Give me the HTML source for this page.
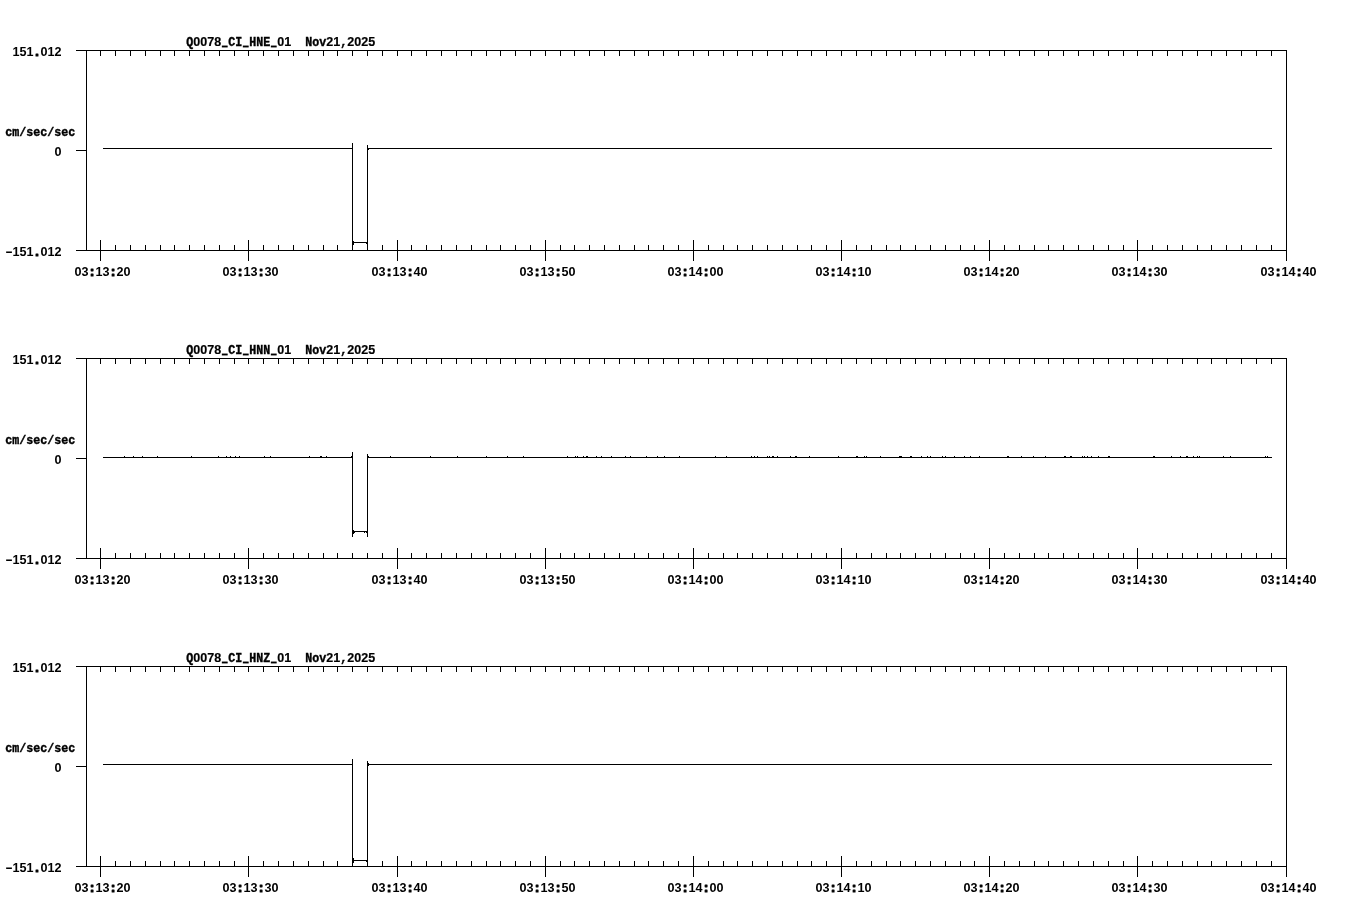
<!DOCTYPE html>
<html lang="en">
<head>
<meta charset="utf-8">
<title>Q0078 CI HN waveforms</title>
<style>
html,body{margin:0;padding:0;background:#fff;}
body{width:1358px;height:924px;overflow:hidden;}
svg{display:block;}
.ln{fill:#000;shape-rendering:crispEdges;}
.tx{font-family:"Liberation Mono","DejaVu Sans Mono",monospace;font-weight:bold;font-size:11.665px;fill:#000;stroke:#000;stroke-width:0.35px;}
.us{stroke-width:1.1px;}
.d{font-family:"Liberation Sans",sans-serif;font-size:10.77px;stroke-width:0.15px;}
.n{font-family:"Liberation Sans",sans-serif;font-size:12.6px;text-anchor:middle;stroke-width:0;}
.p{stroke-width:1.2px;stroke-linejoin:round;}
</style>
</head>
<body>
<svg width="1358" height="924" viewBox="0 0 1358 924">
<rect width="1358" height="924" fill="#fff"/>
<g class="ln">
<path d="M76 50h1211v1h-1211zM76 250h1211v1h-1211zM86 50h1v201h-1zM1286 50h1v211h-1zM76 150h10v1h-10zM100 51h1v5h-1zM100 240h1v21h-1zM115 51h1v5h-1zM115 245h1v5h-1zM130 51h1v5h-1zM130 245h1v5h-1zM145 51h1v5h-1zM145 245h1v5h-1zM160 51h1v5h-1zM160 245h1v5h-1zM174 51h1v5h-1zM174 245h1v5h-1zM189 51h1v5h-1zM189 245h1v5h-1zM204 51h1v5h-1zM204 245h1v5h-1zM219 51h1v5h-1zM219 245h1v5h-1zM234 51h1v5h-1zM234 245h1v5h-1zM248 51h1v5h-1zM248 240h1v21h-1zM263 51h1v5h-1zM263 245h1v5h-1zM278 51h1v5h-1zM278 245h1v5h-1zM293 51h1v5h-1zM293 245h1v5h-1zM308 51h1v5h-1zM308 245h1v5h-1zM323 51h1v5h-1zM323 245h1v5h-1zM337 51h1v5h-1zM337 245h1v5h-1zM352 51h1v5h-1zM352 245h1v5h-1zM367 51h1v5h-1zM367 245h1v5h-1zM382 51h1v5h-1zM382 245h1v5h-1zM397 51h1v5h-1zM397 240h1v21h-1zM411 51h1v5h-1zM411 245h1v5h-1zM426 51h1v5h-1zM426 245h1v5h-1zM441 51h1v5h-1zM441 245h1v5h-1zM456 51h1v5h-1zM456 245h1v5h-1zM471 51h1v5h-1zM471 245h1v5h-1zM486 51h1v5h-1zM486 245h1v5h-1zM500 51h1v5h-1zM500 245h1v5h-1zM515 51h1v5h-1zM515 245h1v5h-1zM530 51h1v5h-1zM530 245h1v5h-1zM545 51h1v5h-1zM545 240h1v21h-1zM560 51h1v5h-1zM560 245h1v5h-1zM574 51h1v5h-1zM574 245h1v5h-1zM589 51h1v5h-1zM589 245h1v5h-1zM604 51h1v5h-1zM604 245h1v5h-1zM619 51h1v5h-1zM619 245h1v5h-1zM634 51h1v5h-1zM634 245h1v5h-1zM648 51h1v5h-1zM648 245h1v5h-1zM663 51h1v5h-1zM663 245h1v5h-1zM678 51h1v5h-1zM678 245h1v5h-1zM693 51h1v5h-1zM693 240h1v21h-1zM708 51h1v5h-1zM708 245h1v5h-1zM723 51h1v5h-1zM723 245h1v5h-1zM737 51h1v5h-1zM737 245h1v5h-1zM752 51h1v5h-1zM752 245h1v5h-1zM767 51h1v5h-1zM767 245h1v5h-1zM782 51h1v5h-1zM782 245h1v5h-1zM797 51h1v5h-1zM797 245h1v5h-1zM811 51h1v5h-1zM811 245h1v5h-1zM826 51h1v5h-1zM826 245h1v5h-1zM841 51h1v5h-1zM841 240h1v21h-1zM856 51h1v5h-1zM856 245h1v5h-1zM871 51h1v5h-1zM871 245h1v5h-1zM886 51h1v5h-1zM886 245h1v5h-1zM900 51h1v5h-1zM900 245h1v5h-1zM915 51h1v5h-1zM915 245h1v5h-1zM930 51h1v5h-1zM930 245h1v5h-1zM945 51h1v5h-1zM945 245h1v5h-1zM960 51h1v5h-1zM960 245h1v5h-1zM974 51h1v5h-1zM974 245h1v5h-1zM989 51h1v5h-1zM989 240h1v21h-1zM1004 51h1v5h-1zM1004 245h1v5h-1zM1019 51h1v5h-1zM1019 245h1v5h-1zM1034 51h1v5h-1zM1034 245h1v5h-1zM1048 51h1v5h-1zM1048 245h1v5h-1zM1063 51h1v5h-1zM1063 245h1v5h-1zM1078 51h1v5h-1zM1078 245h1v5h-1zM1093 51h1v5h-1zM1093 245h1v5h-1zM1108 51h1v5h-1zM1108 245h1v5h-1zM1123 51h1v5h-1zM1123 245h1v5h-1zM1137 51h1v5h-1zM1137 240h1v21h-1zM1152 51h1v5h-1zM1152 245h1v5h-1zM1167 51h1v5h-1zM1167 245h1v5h-1zM1182 51h1v5h-1zM1182 245h1v5h-1zM1197 51h1v5h-1zM1197 245h1v5h-1zM1211 51h1v5h-1zM1211 245h1v5h-1zM1226 51h1v5h-1zM1226 245h1v5h-1zM1241 51h1v5h-1zM1241 245h1v5h-1zM1256 51h1v5h-1zM1256 245h1v5h-1zM1271 51h1v5h-1zM1271 245h1v5h-1zM1286 51h1v5h-1zM1286 240h1v21h-1zM103 148h249v1h-249zM368 148h904v1h-904zM352 143h1v107h-1zM367 145h1v105h-1zM353 242h14v1h-14zM353 241h1v4h-1zM366 243h1v1h-1zM368 149h1v1h-1z"/>
<path d="M76 358h1211v1h-1211zM76 558h1211v1h-1211zM86 358h1v201h-1zM1286 358h1v211h-1zM76 458h10v1h-10zM100 359h1v5h-1zM100 548h1v21h-1zM115 359h1v5h-1zM115 553h1v5h-1zM130 359h1v5h-1zM130 553h1v5h-1zM145 359h1v5h-1zM145 553h1v5h-1zM160 359h1v5h-1zM160 553h1v5h-1zM174 359h1v5h-1zM174 553h1v5h-1zM189 359h1v5h-1zM189 553h1v5h-1zM204 359h1v5h-1zM204 553h1v5h-1zM219 359h1v5h-1zM219 553h1v5h-1zM234 359h1v5h-1zM234 553h1v5h-1zM248 359h1v5h-1zM248 548h1v21h-1zM263 359h1v5h-1zM263 553h1v5h-1zM278 359h1v5h-1zM278 553h1v5h-1zM293 359h1v5h-1zM293 553h1v5h-1zM308 359h1v5h-1zM308 553h1v5h-1zM323 359h1v5h-1zM323 553h1v5h-1zM337 359h1v5h-1zM337 553h1v5h-1zM352 359h1v5h-1zM352 553h1v5h-1zM367 359h1v5h-1zM367 553h1v5h-1zM382 359h1v5h-1zM382 553h1v5h-1zM397 359h1v5h-1zM397 548h1v21h-1zM411 359h1v5h-1zM411 553h1v5h-1zM426 359h1v5h-1zM426 553h1v5h-1zM441 359h1v5h-1zM441 553h1v5h-1zM456 359h1v5h-1zM456 553h1v5h-1zM471 359h1v5h-1zM471 553h1v5h-1zM486 359h1v5h-1zM486 553h1v5h-1zM500 359h1v5h-1zM500 553h1v5h-1zM515 359h1v5h-1zM515 553h1v5h-1zM530 359h1v5h-1zM530 553h1v5h-1zM545 359h1v5h-1zM545 548h1v21h-1zM560 359h1v5h-1zM560 553h1v5h-1zM574 359h1v5h-1zM574 553h1v5h-1zM589 359h1v5h-1zM589 553h1v5h-1zM604 359h1v5h-1zM604 553h1v5h-1zM619 359h1v5h-1zM619 553h1v5h-1zM634 359h1v5h-1zM634 553h1v5h-1zM648 359h1v5h-1zM648 553h1v5h-1zM663 359h1v5h-1zM663 553h1v5h-1zM678 359h1v5h-1zM678 553h1v5h-1zM693 359h1v5h-1zM693 548h1v21h-1zM708 359h1v5h-1zM708 553h1v5h-1zM723 359h1v5h-1zM723 553h1v5h-1zM737 359h1v5h-1zM737 553h1v5h-1zM752 359h1v5h-1zM752 553h1v5h-1zM767 359h1v5h-1zM767 553h1v5h-1zM782 359h1v5h-1zM782 553h1v5h-1zM797 359h1v5h-1zM797 553h1v5h-1zM811 359h1v5h-1zM811 553h1v5h-1zM826 359h1v5h-1zM826 553h1v5h-1zM841 359h1v5h-1zM841 548h1v21h-1zM856 359h1v5h-1zM856 553h1v5h-1zM871 359h1v5h-1zM871 553h1v5h-1zM886 359h1v5h-1zM886 553h1v5h-1zM900 359h1v5h-1zM900 553h1v5h-1zM915 359h1v5h-1zM915 553h1v5h-1zM930 359h1v5h-1zM930 553h1v5h-1zM945 359h1v5h-1zM945 553h1v5h-1zM960 359h1v5h-1zM960 553h1v5h-1zM974 359h1v5h-1zM974 553h1v5h-1zM989 359h1v5h-1zM989 548h1v21h-1zM1004 359h1v5h-1zM1004 553h1v5h-1zM1019 359h1v5h-1zM1019 553h1v5h-1zM1034 359h1v5h-1zM1034 553h1v5h-1zM1048 359h1v5h-1zM1048 553h1v5h-1zM1063 359h1v5h-1zM1063 553h1v5h-1zM1078 359h1v5h-1zM1078 553h1v5h-1zM1093 359h1v5h-1zM1093 553h1v5h-1zM1108 359h1v5h-1zM1108 553h1v5h-1zM1123 359h1v5h-1zM1123 553h1v5h-1zM1137 359h1v5h-1zM1137 548h1v21h-1zM1152 359h1v5h-1zM1152 553h1v5h-1zM1167 359h1v5h-1zM1167 553h1v5h-1zM1182 359h1v5h-1zM1182 553h1v5h-1zM1197 359h1v5h-1zM1197 553h1v5h-1zM1211 359h1v5h-1zM1211 553h1v5h-1zM1226 359h1v5h-1zM1226 553h1v5h-1zM1241 359h1v5h-1zM1241 553h1v5h-1zM1256 359h1v5h-1zM1256 553h1v5h-1zM1271 359h1v5h-1zM1271 553h1v5h-1zM1286 359h1v5h-1zM1286 548h1v21h-1zM103 457h249v1h-249zM368 457h904v1h-904zM352 452h1v85h-1zM367 454h1v83h-1zM353 531h14v1h-14zM353 530h1v4h-1zM354 531h1v2h-1zM364 532h1v1h-1zM366 532h1v1h-1zM124 456h1v1h-1zM133 456h1v1h-1zM142 456h1v1h-1zM157 456h1v1h-1zM191 456h1v1h-1zM218 456h1v1h-1zM226 456h1v1h-1zM230 456h1v1h-1zM235 456h1v1h-1zM239 456h1v1h-1zM264 456h1v1h-1zM270 456h1v1h-1zM309 456h1v1h-1zM320 456h1v1h-1zM321 456h1v1h-1zM326 456h1v1h-1zM351 456h1v1h-1zM368 456h1v1h-1zM390 456h1v1h-1zM430 456h1v1h-1zM457 456h1v1h-1zM486 456h1v1h-1zM507 456h1v1h-1zM523 456h1v1h-1zM567 456h1v1h-1zM575 456h1v1h-1zM577 456h1v1h-1zM583 456h1v1h-1zM586 456h1v1h-1zM587 456h1v1h-1zM596 456h1v1h-1zM601 456h1v1h-1zM611 456h1v1h-1zM625 456h1v1h-1zM630 456h1v1h-1zM646 456h1v1h-1zM657 456h1v1h-1zM664 456h1v1h-1zM679 456h1v1h-1zM715 456h1v1h-1zM726 456h1v1h-1zM751 456h1v1h-1zM754 456h1v1h-1zM757 456h1v1h-1zM767 456h1v1h-1zM769 456h1v1h-1zM772 456h1v1h-1zM773 456h1v1h-1zM777 456h1v1h-1zM790 456h1v1h-1zM795 456h1v1h-1zM796 456h1v1h-1zM809 456h1v1h-1zM838 456h1v1h-1zM856 456h1v1h-1zM857 456h1v1h-1zM864 456h1v1h-1zM866 456h1v1h-1zM880 456h1v1h-1zM899 456h1v1h-1zM900 456h1v1h-1zM901 456h1v1h-1zM910 456h1v1h-1zM911 456h1v1h-1zM921 456h1v1h-1zM927 456h1v1h-1zM930 456h1v1h-1zM942 456h1v1h-1zM945 456h1v1h-1zM954 456h1v1h-1zM964 456h1v1h-1zM970 456h1v1h-1zM979 456h1v1h-1zM1007 456h1v1h-1zM1008 456h1v1h-1zM1021 456h1v1h-1zM1033 456h1v1h-1zM1045 456h1v1h-1zM1064 456h1v1h-1zM1065 456h1v1h-1zM1070 456h1v1h-1zM1071 456h1v1h-1zM1082 456h1v1h-1zM1084 456h1v1h-1zM1087 456h1v1h-1zM1091 456h1v1h-1zM1098 456h1v1h-1zM1108 456h1v1h-1zM1109 456h1v1h-1zM1153 456h1v1h-1zM1154 456h1v1h-1zM1171 456h1v1h-1zM1180 456h1v1h-1zM1186 456h1v1h-1zM1187 456h1v1h-1zM1193 456h1v1h-1zM1197 456h1v1h-1zM1199 456h1v1h-1zM1223 456h1v1h-1zM1230 456h1v1h-1zM1265 456h1v1h-1zM1267 456h1v1h-1z"/>
<path d="M76 666h1211v1h-1211zM76 866h1211v1h-1211zM86 666h1v201h-1zM1286 666h1v211h-1zM76 766h10v1h-10zM100 667h1v5h-1zM100 856h1v21h-1zM115 667h1v5h-1zM115 861h1v5h-1zM130 667h1v5h-1zM130 861h1v5h-1zM145 667h1v5h-1zM145 861h1v5h-1zM160 667h1v5h-1zM160 861h1v5h-1zM174 667h1v5h-1zM174 861h1v5h-1zM189 667h1v5h-1zM189 861h1v5h-1zM204 667h1v5h-1zM204 861h1v5h-1zM219 667h1v5h-1zM219 861h1v5h-1zM234 667h1v5h-1zM234 861h1v5h-1zM248 667h1v5h-1zM248 856h1v21h-1zM263 667h1v5h-1zM263 861h1v5h-1zM278 667h1v5h-1zM278 861h1v5h-1zM293 667h1v5h-1zM293 861h1v5h-1zM308 667h1v5h-1zM308 861h1v5h-1zM323 667h1v5h-1zM323 861h1v5h-1zM337 667h1v5h-1zM337 861h1v5h-1zM352 667h1v5h-1zM352 861h1v5h-1zM367 667h1v5h-1zM367 861h1v5h-1zM382 667h1v5h-1zM382 861h1v5h-1zM397 667h1v5h-1zM397 856h1v21h-1zM411 667h1v5h-1zM411 861h1v5h-1zM426 667h1v5h-1zM426 861h1v5h-1zM441 667h1v5h-1zM441 861h1v5h-1zM456 667h1v5h-1zM456 861h1v5h-1zM471 667h1v5h-1zM471 861h1v5h-1zM486 667h1v5h-1zM486 861h1v5h-1zM500 667h1v5h-1zM500 861h1v5h-1zM515 667h1v5h-1zM515 861h1v5h-1zM530 667h1v5h-1zM530 861h1v5h-1zM545 667h1v5h-1zM545 856h1v21h-1zM560 667h1v5h-1zM560 861h1v5h-1zM574 667h1v5h-1zM574 861h1v5h-1zM589 667h1v5h-1zM589 861h1v5h-1zM604 667h1v5h-1zM604 861h1v5h-1zM619 667h1v5h-1zM619 861h1v5h-1zM634 667h1v5h-1zM634 861h1v5h-1zM648 667h1v5h-1zM648 861h1v5h-1zM663 667h1v5h-1zM663 861h1v5h-1zM678 667h1v5h-1zM678 861h1v5h-1zM693 667h1v5h-1zM693 856h1v21h-1zM708 667h1v5h-1zM708 861h1v5h-1zM723 667h1v5h-1zM723 861h1v5h-1zM737 667h1v5h-1zM737 861h1v5h-1zM752 667h1v5h-1zM752 861h1v5h-1zM767 667h1v5h-1zM767 861h1v5h-1zM782 667h1v5h-1zM782 861h1v5h-1zM797 667h1v5h-1zM797 861h1v5h-1zM811 667h1v5h-1zM811 861h1v5h-1zM826 667h1v5h-1zM826 861h1v5h-1zM841 667h1v5h-1zM841 856h1v21h-1zM856 667h1v5h-1zM856 861h1v5h-1zM871 667h1v5h-1zM871 861h1v5h-1zM886 667h1v5h-1zM886 861h1v5h-1zM900 667h1v5h-1zM900 861h1v5h-1zM915 667h1v5h-1zM915 861h1v5h-1zM930 667h1v5h-1zM930 861h1v5h-1zM945 667h1v5h-1zM945 861h1v5h-1zM960 667h1v5h-1zM960 861h1v5h-1zM974 667h1v5h-1zM974 861h1v5h-1zM989 667h1v5h-1zM989 856h1v21h-1zM1004 667h1v5h-1zM1004 861h1v5h-1zM1019 667h1v5h-1zM1019 861h1v5h-1zM1034 667h1v5h-1zM1034 861h1v5h-1zM1048 667h1v5h-1zM1048 861h1v5h-1zM1063 667h1v5h-1zM1063 861h1v5h-1zM1078 667h1v5h-1zM1078 861h1v5h-1zM1093 667h1v5h-1zM1093 861h1v5h-1zM1108 667h1v5h-1zM1108 861h1v5h-1zM1123 667h1v5h-1zM1123 861h1v5h-1zM1137 667h1v5h-1zM1137 856h1v21h-1zM1152 667h1v5h-1zM1152 861h1v5h-1zM1167 667h1v5h-1zM1167 861h1v5h-1zM1182 667h1v5h-1zM1182 861h1v5h-1zM1197 667h1v5h-1zM1197 861h1v5h-1zM1211 667h1v5h-1zM1211 861h1v5h-1zM1226 667h1v5h-1zM1226 861h1v5h-1zM1241 667h1v5h-1zM1241 861h1v5h-1zM1256 667h1v5h-1zM1256 861h1v5h-1zM1271 667h1v5h-1zM1271 861h1v5h-1zM1286 667h1v5h-1zM1286 856h1v21h-1zM103 764h249v1h-249zM368 764h904v1h-904zM352 759h1v107h-1zM367 761h1v105h-1zM353 860h14v1h-14zM353 858h1v5h-1zM366 861h1v1h-1zM368 763h1v3h-1z"/>
</g>
<g class="tx">
<text xml:space="preserve" transform="translate(186.3 46) scale(1 1.17)" x="0 7 14 21 28 36 42 49 57 63 70 77 85 91 98 105 112 119 126 133 140 147 154 161 168 175 182" y="0 0 0 0 0 -1.05 0 0 -1.05 0 0 0 -1.05 0 0 0 0 0 0 0 0 0 0 0 0 0 0">Q<tspan class="d" textLength="7" lengthAdjust="spacingAndGlyphs">0</tspan><tspan class="d" textLength="7" lengthAdjust="spacingAndGlyphs">0</tspan><tspan class="d" textLength="7" lengthAdjust="spacingAndGlyphs">7</tspan><tspan class="d" textLength="7" lengthAdjust="spacingAndGlyphs">8</tspan><tspan class="us" textLength="5" lengthAdjust="spacingAndGlyphs">_</tspan>CI<tspan class="us" textLength="5" lengthAdjust="spacingAndGlyphs">_</tspan>HNE<tspan class="us" textLength="5" lengthAdjust="spacingAndGlyphs">_</tspan><tspan class="d" textLength="7" lengthAdjust="spacingAndGlyphs">0</tspan><tspan class="d" textLength="7" lengthAdjust="spacingAndGlyphs">1</tspan>  Nov<tspan class="d" textLength="7" lengthAdjust="spacingAndGlyphs">2</tspan><tspan class="d" textLength="7" lengthAdjust="spacingAndGlyphs">1</tspan>,<tspan class="d" textLength="7" lengthAdjust="spacingAndGlyphs">2</tspan><tspan class="d" textLength="7" lengthAdjust="spacingAndGlyphs">0</tspan><tspan class="d" textLength="7" lengthAdjust="spacingAndGlyphs">2</tspan><tspan class="d" textLength="7" lengthAdjust="spacingAndGlyphs">5</tspan></text>
<text class="n" transform="translate(12.6 56)" x="3.5 10.5 17.5 24.5 31.5 38.5 45.5" y="0">151<tspan class="p">.</tspan>012</text>
<text class="n" transform="translate(5.6 256)" x="3.5 10.5 17.5 24.5 31.5 38.5 45.5 52.5" y="0"><tspan textLength="7.6" lengthAdjust="spacingAndGlyphs">-</tspan>151<tspan class="p">.</tspan>012</text>
<text class="n" transform="translate(54.6 156)" x="3.5" y="0">0</text>
<text xml:space="preserve" transform="translate(5.3 136) scale(1 1.17)" x="0 7 14 21 28 35 42 49 56 63" y="0 0 0 0 0 0 0 0 0 0">cm/sec/sec</text>
<text class="n" transform="translate(74.6 276)" x="3.5 10.5 17.5 24.5 31.5 38.5 45.5 52.5" y="0">03<tspan class="p">:</tspan>13<tspan class="p">:</tspan>20</text>
<text class="n" transform="translate(222.6 276)" x="3.5 10.5 17.5 24.5 31.5 38.5 45.5 52.5" y="0">03<tspan class="p">:</tspan>13<tspan class="p">:</tspan>30</text>
<text class="n" transform="translate(371.6 276)" x="3.5 10.5 17.5 24.5 31.5 38.5 45.5 52.5" y="0">03<tspan class="p">:</tspan>13<tspan class="p">:</tspan>40</text>
<text class="n" transform="translate(519.6 276)" x="3.5 10.5 17.5 24.5 31.5 38.5 45.5 52.5" y="0">03<tspan class="p">:</tspan>13<tspan class="p">:</tspan>50</text>
<text class="n" transform="translate(667.6 276)" x="3.5 10.5 17.5 24.5 31.5 38.5 45.5 52.5" y="0">03<tspan class="p">:</tspan>14<tspan class="p">:</tspan>00</text>
<text class="n" transform="translate(815.6 276)" x="3.5 10.5 17.5 24.5 31.5 38.5 45.5 52.5" y="0">03<tspan class="p">:</tspan>14<tspan class="p">:</tspan>10</text>
<text class="n" transform="translate(963.6 276)" x="3.5 10.5 17.5 24.5 31.5 38.5 45.5 52.5" y="0">03<tspan class="p">:</tspan>14<tspan class="p">:</tspan>20</text>
<text class="n" transform="translate(1111.6 276)" x="3.5 10.5 17.5 24.5 31.5 38.5 45.5 52.5" y="0">03<tspan class="p">:</tspan>14<tspan class="p">:</tspan>30</text>
<text class="n" transform="translate(1260.6 276)" x="3.5 10.5 17.5 24.5 31.5 38.5 45.5 52.5" y="0">03<tspan class="p">:</tspan>14<tspan class="p">:</tspan>40</text>
<text xml:space="preserve" transform="translate(186.3 354) scale(1 1.17)" x="0 7 14 21 28 36 42 49 57 63 70 77 85 91 98 105 112 119 126 133 140 147 154 161 168 175 182" y="0 0 0 0 0 -1.05 0 0 -1.05 0 0 0 -1.05 0 0 0 0 0 0 0 0 0 0 0 0 0 0">Q<tspan class="d" textLength="7" lengthAdjust="spacingAndGlyphs">0</tspan><tspan class="d" textLength="7" lengthAdjust="spacingAndGlyphs">0</tspan><tspan class="d" textLength="7" lengthAdjust="spacingAndGlyphs">7</tspan><tspan class="d" textLength="7" lengthAdjust="spacingAndGlyphs">8</tspan><tspan class="us" textLength="5" lengthAdjust="spacingAndGlyphs">_</tspan>CI<tspan class="us" textLength="5" lengthAdjust="spacingAndGlyphs">_</tspan>HNN<tspan class="us" textLength="5" lengthAdjust="spacingAndGlyphs">_</tspan><tspan class="d" textLength="7" lengthAdjust="spacingAndGlyphs">0</tspan><tspan class="d" textLength="7" lengthAdjust="spacingAndGlyphs">1</tspan>  Nov<tspan class="d" textLength="7" lengthAdjust="spacingAndGlyphs">2</tspan><tspan class="d" textLength="7" lengthAdjust="spacingAndGlyphs">1</tspan>,<tspan class="d" textLength="7" lengthAdjust="spacingAndGlyphs">2</tspan><tspan class="d" textLength="7" lengthAdjust="spacingAndGlyphs">0</tspan><tspan class="d" textLength="7" lengthAdjust="spacingAndGlyphs">2</tspan><tspan class="d" textLength="7" lengthAdjust="spacingAndGlyphs">5</tspan></text>
<text class="n" transform="translate(12.6 364)" x="3.5 10.5 17.5 24.5 31.5 38.5 45.5" y="0">151<tspan class="p">.</tspan>012</text>
<text class="n" transform="translate(5.6 564)" x="3.5 10.5 17.5 24.5 31.5 38.5 45.5 52.5" y="0"><tspan textLength="7.6" lengthAdjust="spacingAndGlyphs">-</tspan>151<tspan class="p">.</tspan>012</text>
<text class="n" transform="translate(54.6 464)" x="3.5" y="0">0</text>
<text xml:space="preserve" transform="translate(5.3 444) scale(1 1.17)" x="0 7 14 21 28 35 42 49 56 63" y="0 0 0 0 0 0 0 0 0 0">cm/sec/sec</text>
<text class="n" transform="translate(74.6 584)" x="3.5 10.5 17.5 24.5 31.5 38.5 45.5 52.5" y="0">03<tspan class="p">:</tspan>13<tspan class="p">:</tspan>20</text>
<text class="n" transform="translate(222.6 584)" x="3.5 10.5 17.5 24.5 31.5 38.5 45.5 52.5" y="0">03<tspan class="p">:</tspan>13<tspan class="p">:</tspan>30</text>
<text class="n" transform="translate(371.6 584)" x="3.5 10.5 17.5 24.5 31.5 38.5 45.5 52.5" y="0">03<tspan class="p">:</tspan>13<tspan class="p">:</tspan>40</text>
<text class="n" transform="translate(519.6 584)" x="3.5 10.5 17.5 24.5 31.5 38.5 45.5 52.5" y="0">03<tspan class="p">:</tspan>13<tspan class="p">:</tspan>50</text>
<text class="n" transform="translate(667.6 584)" x="3.5 10.5 17.5 24.5 31.5 38.5 45.5 52.5" y="0">03<tspan class="p">:</tspan>14<tspan class="p">:</tspan>00</text>
<text class="n" transform="translate(815.6 584)" x="3.5 10.5 17.5 24.5 31.5 38.5 45.5 52.5" y="0">03<tspan class="p">:</tspan>14<tspan class="p">:</tspan>10</text>
<text class="n" transform="translate(963.6 584)" x="3.5 10.5 17.5 24.5 31.5 38.5 45.5 52.5" y="0">03<tspan class="p">:</tspan>14<tspan class="p">:</tspan>20</text>
<text class="n" transform="translate(1111.6 584)" x="3.5 10.5 17.5 24.5 31.5 38.5 45.5 52.5" y="0">03<tspan class="p">:</tspan>14<tspan class="p">:</tspan>30</text>
<text class="n" transform="translate(1260.6 584)" x="3.5 10.5 17.5 24.5 31.5 38.5 45.5 52.5" y="0">03<tspan class="p">:</tspan>14<tspan class="p">:</tspan>40</text>
<text xml:space="preserve" transform="translate(186.3 662) scale(1 1.17)" x="0 7 14 21 28 36 42 49 57 63 70 77 85 91 98 105 112 119 126 133 140 147 154 161 168 175 182" y="0 0 0 0 0 -1.05 0 0 -1.05 0 0 0 -1.05 0 0 0 0 0 0 0 0 0 0 0 0 0 0">Q<tspan class="d" textLength="7" lengthAdjust="spacingAndGlyphs">0</tspan><tspan class="d" textLength="7" lengthAdjust="spacingAndGlyphs">0</tspan><tspan class="d" textLength="7" lengthAdjust="spacingAndGlyphs">7</tspan><tspan class="d" textLength="7" lengthAdjust="spacingAndGlyphs">8</tspan><tspan class="us" textLength="5" lengthAdjust="spacingAndGlyphs">_</tspan>CI<tspan class="us" textLength="5" lengthAdjust="spacingAndGlyphs">_</tspan>HNZ<tspan class="us" textLength="5" lengthAdjust="spacingAndGlyphs">_</tspan><tspan class="d" textLength="7" lengthAdjust="spacingAndGlyphs">0</tspan><tspan class="d" textLength="7" lengthAdjust="spacingAndGlyphs">1</tspan>  Nov<tspan class="d" textLength="7" lengthAdjust="spacingAndGlyphs">2</tspan><tspan class="d" textLength="7" lengthAdjust="spacingAndGlyphs">1</tspan>,<tspan class="d" textLength="7" lengthAdjust="spacingAndGlyphs">2</tspan><tspan class="d" textLength="7" lengthAdjust="spacingAndGlyphs">0</tspan><tspan class="d" textLength="7" lengthAdjust="spacingAndGlyphs">2</tspan><tspan class="d" textLength="7" lengthAdjust="spacingAndGlyphs">5</tspan></text>
<text class="n" transform="translate(12.6 672)" x="3.5 10.5 17.5 24.5 31.5 38.5 45.5" y="0">151<tspan class="p">.</tspan>012</text>
<text class="n" transform="translate(5.6 872)" x="3.5 10.5 17.5 24.5 31.5 38.5 45.5 52.5" y="0"><tspan textLength="7.6" lengthAdjust="spacingAndGlyphs">-</tspan>151<tspan class="p">.</tspan>012</text>
<text class="n" transform="translate(54.6 772)" x="3.5" y="0">0</text>
<text xml:space="preserve" transform="translate(5.3 752) scale(1 1.17)" x="0 7 14 21 28 35 42 49 56 63" y="0 0 0 0 0 0 0 0 0 0">cm/sec/sec</text>
<text class="n" transform="translate(74.6 892)" x="3.5 10.5 17.5 24.5 31.5 38.5 45.5 52.5" y="0">03<tspan class="p">:</tspan>13<tspan class="p">:</tspan>20</text>
<text class="n" transform="translate(222.6 892)" x="3.5 10.5 17.5 24.5 31.5 38.5 45.5 52.5" y="0">03<tspan class="p">:</tspan>13<tspan class="p">:</tspan>30</text>
<text class="n" transform="translate(371.6 892)" x="3.5 10.5 17.5 24.5 31.5 38.5 45.5 52.5" y="0">03<tspan class="p">:</tspan>13<tspan class="p">:</tspan>40</text>
<text class="n" transform="translate(519.6 892)" x="3.5 10.5 17.5 24.5 31.5 38.5 45.5 52.5" y="0">03<tspan class="p">:</tspan>13<tspan class="p">:</tspan>50</text>
<text class="n" transform="translate(667.6 892)" x="3.5 10.5 17.5 24.5 31.5 38.5 45.5 52.5" y="0">03<tspan class="p">:</tspan>14<tspan class="p">:</tspan>00</text>
<text class="n" transform="translate(815.6 892)" x="3.5 10.5 17.5 24.5 31.5 38.5 45.5 52.5" y="0">03<tspan class="p">:</tspan>14<tspan class="p">:</tspan>10</text>
<text class="n" transform="translate(963.6 892)" x="3.5 10.5 17.5 24.5 31.5 38.5 45.5 52.5" y="0">03<tspan class="p">:</tspan>14<tspan class="p">:</tspan>20</text>
<text class="n" transform="translate(1111.6 892)" x="3.5 10.5 17.5 24.5 31.5 38.5 45.5 52.5" y="0">03<tspan class="p">:</tspan>14<tspan class="p">:</tspan>30</text>
<text class="n" transform="translate(1260.6 892)" x="3.5 10.5 17.5 24.5 31.5 38.5 45.5 52.5" y="0">03<tspan class="p">:</tspan>14<tspan class="p">:</tspan>40</text>
</g>
</svg>
</body>
</html>
